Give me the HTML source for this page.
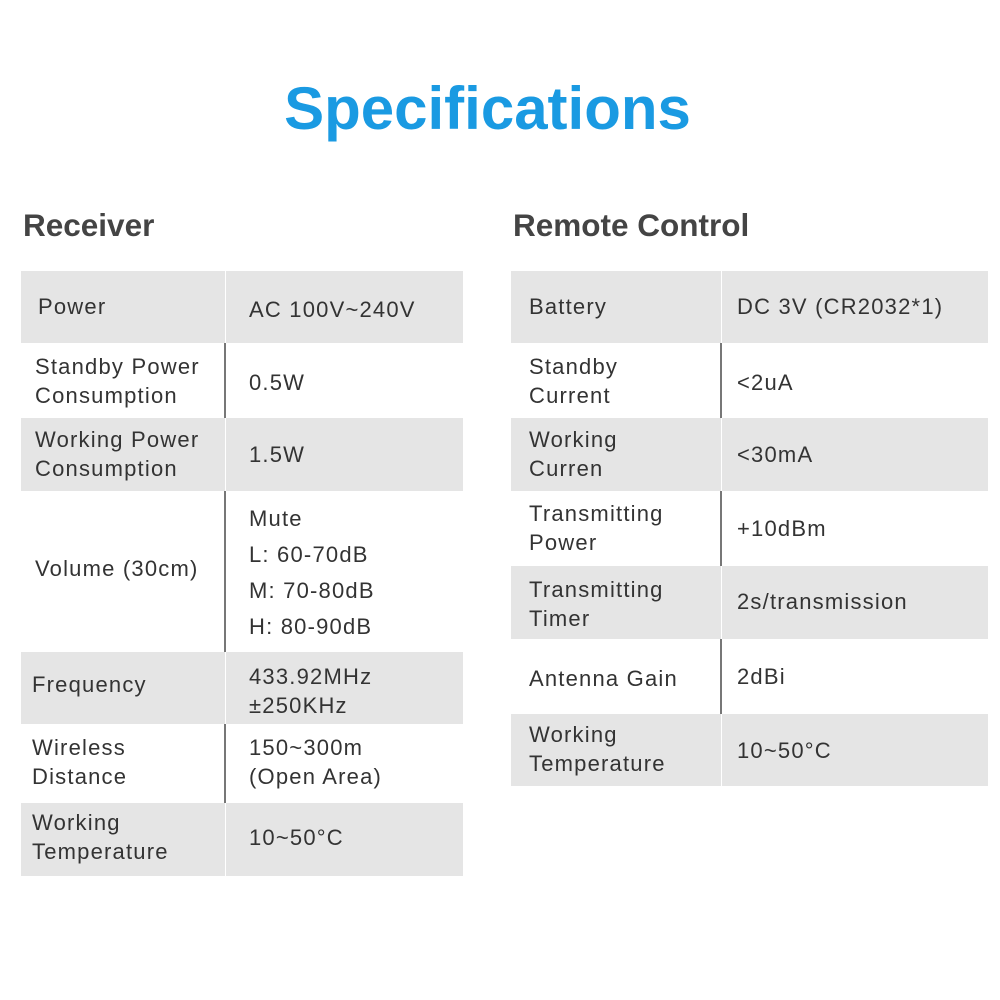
<!DOCTYPE html>
<html><head><style>
body{margin:0;width:1000px;height:1000px;background:#fff;position:relative;font-family:"Liberation Sans",sans-serif;color:#333;overflow:hidden}
.t{position:absolute;left:0;width:975px;text-align:center;top:74px;font-size:60px;font-weight:bold;color:#1a9ae2}
.h{position:absolute;font-size:31.5px;font-weight:bold;color:#444;top:207px}
.r{position:absolute;}
.g{background:#e5e5e5}
.c{position:absolute;font-size:22px;line-height:29px;letter-spacing:1.2px;color:#333}
.vw{position:absolute;width:1px;background:#fff}
.vg{position:absolute;width:2px;background:#777}
</style></head><body>
<div class="t">Specifications</div>
<div class="h" style="left:23px">Receiver</div>
<div class="h" style="left:513px">Remote Control</div>

<div class="r g" style="left:21px;top:271px;width:442px;height:72px"></div>
<div class="r g" style="left:21px;top:418px;width:442px;height:73px"></div>
<div class="r g" style="left:21px;top:652px;width:442px;height:72px"></div>
<div class="r g" style="left:21px;top:803px;width:442px;height:73px"></div>
<div class="vw" style="left:225px;top:271px;height:72px"></div>
<div class="vw" style="left:225px;top:418px;height:73px"></div>
<div class="vw" style="left:225px;top:652px;height:72px"></div>
<div class="vw" style="left:225px;top:803px;height:73px"></div>
<div class="vg" style="left:224px;top:343px;height:75px"></div>
<div class="vg" style="left:224px;top:491px;height:161px"></div>
<div class="vg" style="left:224px;top:724px;height:79px"></div>

<div class="c" style="left:38px;top:292px">Power</div>
<div class="c" style="left:249px;top:295px">AC 100V~240V</div>
<div class="c" style="left:35px;top:352px">Standby Power<br>Consumption</div>
<div class="c" style="left:249px;top:368px">0.5W</div>
<div class="c" style="left:35px;top:425px">Working Power<br>Consumption</div>
<div class="c" style="left:249px;top:440px">1.5W</div>
<div class="c" style="left:35px;top:554px">Volume (30cm)</div>
<div class="c" style="left:249px;top:501px;line-height:36px">Mute<br>L: 60-70dB<br>M: 70-80dB<br>H: 80-90dB</div>
<div class="c" style="left:32px;top:670px">Frequency</div>
<div class="c" style="left:249px;top:662px">433.92MHz<br>±250KHz</div>
<div class="c" style="left:32px;top:733px">Wireless<br>Distance</div>
<div class="c" style="left:249px;top:733px">150~300m<br>(Open Area)</div>
<div class="c" style="left:32px;top:808px">Working<br>Temperature</div>
<div class="c" style="left:249px;top:823px">10~50°C</div>

<div class="r g" style="left:511px;top:271px;width:477px;height:72px"></div>
<div class="r g" style="left:511px;top:418px;width:477px;height:73px"></div>
<div class="r g" style="left:511px;top:566px;width:477px;height:73px"></div>
<div class="r g" style="left:511px;top:714px;width:477px;height:72px"></div>
<div class="vw" style="left:721px;top:271px;height:72px"></div>
<div class="vw" style="left:721px;top:418px;height:73px"></div>
<div class="vw" style="left:721px;top:566px;height:73px"></div>
<div class="vw" style="left:721px;top:714px;height:72px"></div>
<div class="vg" style="left:720px;top:343px;height:75px"></div>
<div class="vg" style="left:720px;top:491px;height:75px"></div>
<div class="vg" style="left:720px;top:639px;height:75px"></div>

<div class="c" style="left:529px;top:292px">Battery</div>
<div class="c" style="left:737px;top:292px">DC 3V (CR2032*1)</div>
<div class="c" style="left:529px;top:352px">Standby<br>Current</div>
<div class="c" style="left:737px;top:368px">&lt;2uA</div>
<div class="c" style="left:529px;top:425px">Working<br>Curren</div>
<div class="c" style="left:737px;top:440px">&lt;30mA</div>
<div class="c" style="left:529px;top:499px">Transmitting<br>Power</div>
<div class="c" style="left:737px;top:514px">+10dBm</div>
<div class="c" style="left:529px;top:575px">Transmitting<br>Timer</div>
<div class="c" style="left:737px;top:587px">2s/transmission</div>
<div class="c" style="left:529px;top:664px">Antenna Gain</div>
<div class="c" style="left:737px;top:662px">2dBi</div>
<div class="c" style="left:529px;top:720px">Working<br>Temperature</div>
<div class="c" style="left:737px;top:736px">10~50°C</div>
</body></html>
